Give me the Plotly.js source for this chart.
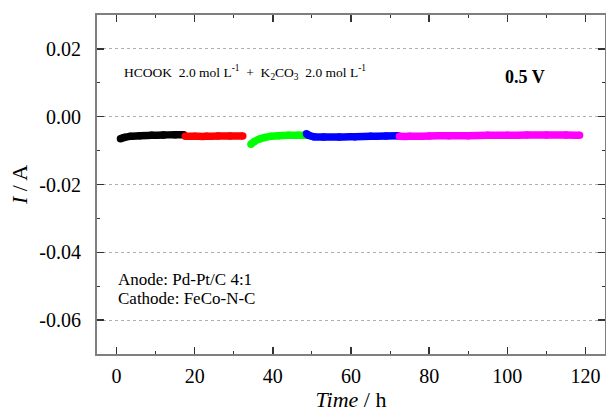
<!DOCTYPE html>
<html>
<head>
<meta charset="utf-8">
<script src="https://cdn.plot.ly/plotly-3.0.1.min.js"></script>
<style>html,body{margin:0;padding:0;background:#fff}#chart{width:606px;height:414px}</style>
</head>
<body>
<div id="chart"></div>
<script>
// Data (Time in h, I in A)
const blackX = [1.0, 2.0, 3.5, 6, 9, 12, 15, 17.2];
const blackY = [-0.0065, -0.0061, -0.0058, -0.0056, -0.0055, -0.0054, -0.0053, -0.0053];
const redX = [17.6, 20, 23, 26, 29, 32.3];
const redY = [-0.0058, -0.0058, -0.0058, -0.0057, -0.0057, -0.0057];
const greenX = [34.4, 35.3, 36.6, 38, 39.5, 41.5, 44, 46.5, 48.5];
const greenY = [-0.0081, -0.0073, -0.0066, -0.0061, -0.0058, -0.0056, -0.0055, -0.0055, -0.0055];
const blueX = [48.6, 49.2, 50.5, 53, 57, 61, 65, 69, 72.0];
const blueY = [-0.0050, -0.0055, -0.0059, -0.0060, -0.0060, -0.0059, -0.0058, -0.0057, -0.0056];
const magentaX = [72.4, 75, 80, 85, 90, 95, 100, 105, 110, 115, 118.5];
const magentaY = [-0.0058, -0.0058, -0.0057, -0.0056, -0.0056, -0.0055, -0.0055, -0.0054, -0.0054, -0.0054, -0.0055];

const xTickVals = [0, 20, 40, 60, 80, 100, 120];
const yTickVals = [0.02, 0.00, -0.02, -0.04, -0.06];
const yTickText = ["0.02", "0.00", "-0.02", "-0.04", "-0.06"];

const series = [
  {x: blackX, y: blackY, c: '#000000'},
  {x: redX, y: redY, c: '#ff0000'},
  {x: greenX, y: greenY, c: '#00ff00'},
  {x: blueX, y: blueY, c: '#0000ff'},
  {x: magentaX, y: magentaY, c: '#ff00ff'}
];

const traces = series.map(s => ({
  x: s.x, y: s.y, type: 'scatter', mode: 'lines+markers',
  line: {color: s.c, width: 7.5, shape: 'spline'},
  marker: {color: s.c, size: 7.5},
  showlegend: false, hoverinfo: 'skip'
}));

const font = 'Liberation Serif, Times New Roman, serif';
const axisCol = '#7f7f7f';

const layout = {
  width: 606, height: 414,
  margin: {l: 97, r: 1, t: 15, b: 60},
  paper_bgcolor: '#fff', plot_bgcolor: '#fff',
  font: {family: font, color: '#000', size: 20},
  showlegend: false,
  xaxis: {
    range: [-5, 125], tickvals: xTickVals,
    ticks: 'inside', ticklen: 7, tickwidth: 1.5, tickcolor: '#333',
    minor: {dtick: 10, ticks: 'inside', ticklen: 3, tickcolor: '#333', tickwidth: 1},
    showline: true, linecolor: axisCol, linewidth: 2, mirror: 'allticks',
    showgrid: false, zeroline: false,
    tickfont: {family: font, size: 20},
    ticklabelstandoff: 3,
    title: {text: '<i>Time</i> / h', font: {family: font, size: 22}, standoff: 2}
  },
  yaxis: {
    range: [-0.07, 0.03], tickvals: yTickVals, ticktext: yTickText,
    ticks: 'inside', ticklen: 7, tickwidth: 1.5, tickcolor: '#333',
    minor: {dtick: 0.01, ticks: 'inside', ticklen: 3, tickcolor: '#333', tickwidth: 1},
    showline: true, linecolor: axisCol, linewidth: 2, mirror: 'allticks',
    showgrid: true, gridcolor: '#b0b0b0', griddash: 'dot', gridwidth: 1,
    zeroline: false,
    tickfont: {family: font, size: 20},
    ticklabelstandoff: 10,
    title: {text: '<i>I</i> / A', font: {family: font, size: 22}, standoff: 6}
  },
  annotations: [
    {xref: 'paper', yref: 'paper', x: 0.05, y: 0.829, xanchor: 'left', yanchor: 'middle', showarrow: false,
     text: 'HCOOK  2.0 mol L<sup>-1</sup>  +  K<sub>2</sub>CO<sub>3</sub>  2.0 mol L<sup>-1</sup>',
     font: {family: font, size: 13.5}},
    {xref: 'paper', yref: 'paper', x: 0.843, y: 0.817, xanchor: 'center', yanchor: 'middle', showarrow: false,
     text: '<b>0.5 V</b>', font: {family: font, size: 18}},
    {xref: 'paper', yref: 'paper', x: 0.037, y: 0.219, xanchor: 'left', yanchor: 'middle', showarrow: false,
     text: 'Anode: Pd-Pt/C 4:1', font: {family: font, size: 17}, height: 17},
    {xref: 'paper', yref: 'paper', x: 0.037, y: 0.164, xanchor: 'left', yanchor: 'middle', showarrow: false,
     text: 'Cathode: FeCo-N-C', font: {family: font, size: 17}, height: 17}
  ]
};

Plotly.newPlot('chart', traces, layout, {displayModeBar: false, staticPlot: true});
</script>
</body>
</html>
